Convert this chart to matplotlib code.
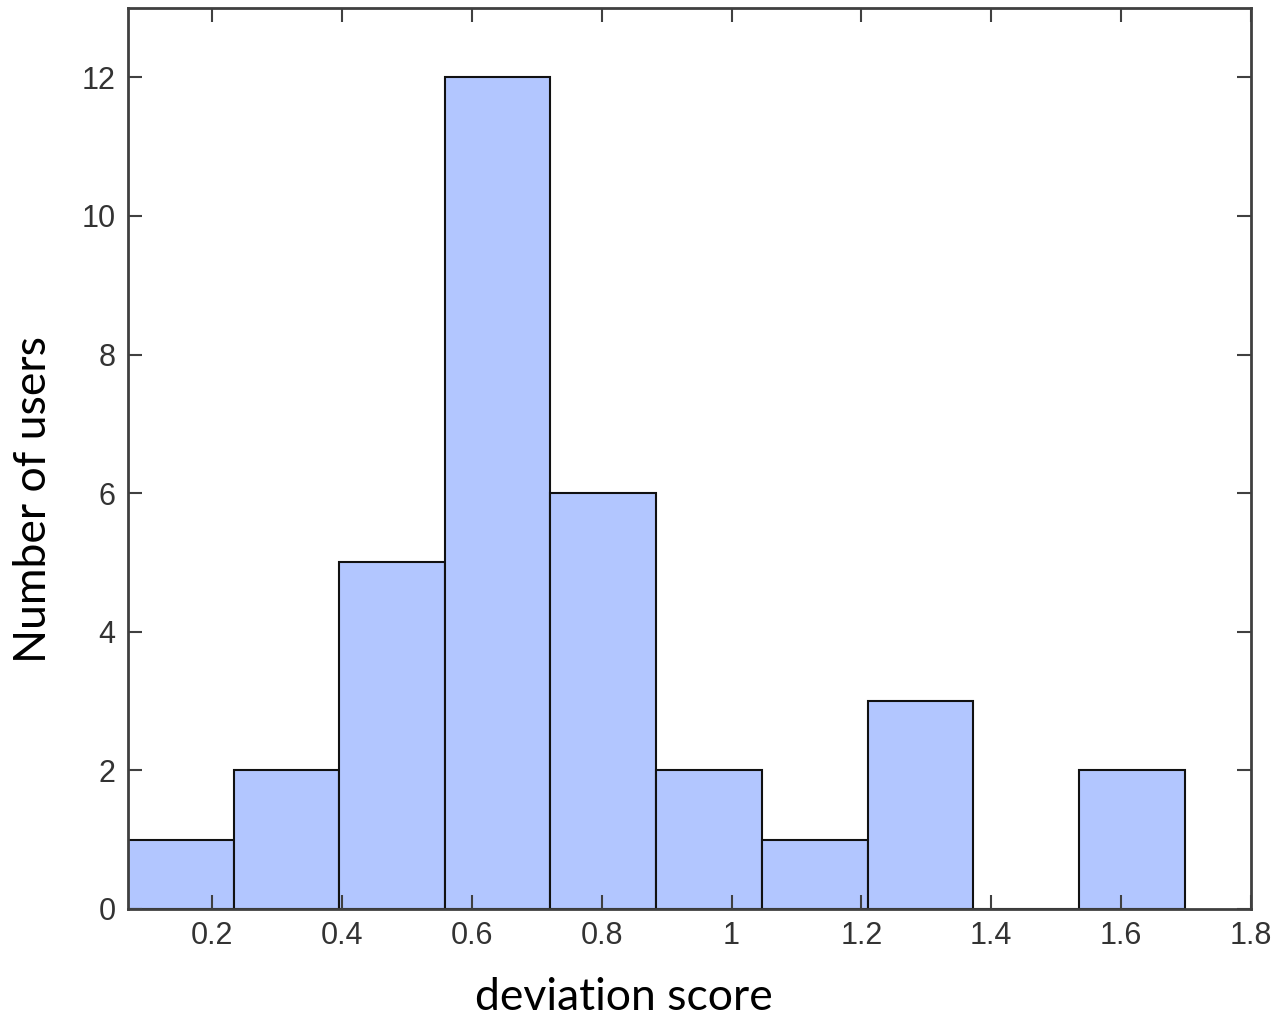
import numpy as np
import matplotlib
matplotlib.use("Agg")
import matplotlib.pyplot as plt
from matplotlib.ticker import FuncFormatter

# histogram data
bin_edges = [0.0705, 0.233, 0.396, 0.559, 0.721, 0.884, 1.047, 1.210, 1.372, 1.535, 1.698]
counts = [1, 2, 5, 12, 6, 2, 1, 3, 0, 2]
x_ticks = [0.2, 0.4, 0.6, 0.8, 1.0, 1.2, 1.4, 1.6, 1.8]
y_ticks = [0, 2, 4, 6, 8, 10, 12]

fig = plt.figure(figsize=(12.78, 10.17), dpi=100)
ax = fig.add_axes([0.1002, 0.1062, 0.8787, 0.8859])

edges = np.array(bin_edges)
ax.bar(edges[:-1], counts, width=np.diff(edges), align='edge',
       color='#b2c6ff', edgecolor='#111111', linewidth=1.5)

ax.set_xlim(bin_edges[0], 1.8)
ax.set_ylim(0, 13)
ax.set_xticks(x_ticks)
ax.set_yticks(y_ticks)
ax.xaxis.set_major_formatter(FuncFormatter(lambda v, p: '%g' % v))

ax.tick_params(direction='in', length=10, width=1.5, color='#404040',
               top=True, right=True, labelsize=22, labelcolor='#333333', pad=9)
for lab in ax.get_xticklabels() + ax.get_yticklabels():
    lab.set_family('Liberation Sans')
for s in ax.spines.values():
    s.set_color('#404040')
    s.set_linewidth(2)

ax.set_xlabel('deviation score', fontsize=32, family='Lato', va='center', ha='center')
ax.set_ylabel('Number of users', fontsize=32, family='Lato', va='center', ha='center')
ax.xaxis.set_label_coords(0.4417, -0.0977)
ax.yaxis.set_label_coords(-0.0846, 0.454)

fig.savefig('out.png', dpi=100)
